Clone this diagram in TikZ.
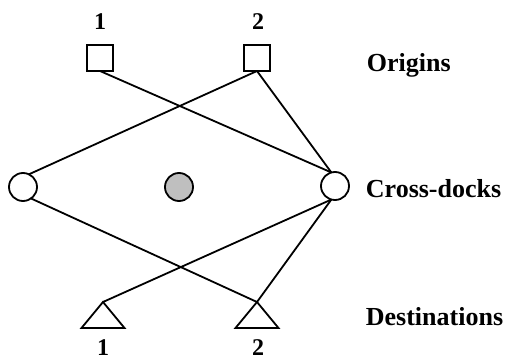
\documentclass[tikz,border=0pt]{standalone}
\usepackage{fontspec}
\setmainfont{Liberation Serif}
\usetikzlibrary{shapes.geometric}

\begin{document}
\begin{tikzpicture}[x=1pt,y=-1pt,line width=1.8pt,
    origin/.style={rectangle,draw,minimum size=26pt,inner sep=0pt,outer sep=0pt},
    dock/.style={circle,draw,minimum size=28pt,inner sep=0pt,outer sep=0pt},
    dest/.style={isosceles triangle,shape border rotate=90,isosceles triangle stretches,
        draw,minimum width=43pt,minimum height=26pt,inner sep=0pt,outer sep=0pt},
    num/.style={font=\fontsize{24}{26}\selectfont\bfseries},
    tier/.style={anchor=base west,inner sep=0pt,font=\fontsize{26}{30}\selectfont\bfseries}]
        \useasboundingbox (0,0) rectangle (509,361);

        % origins
        \draw (100,58) node[origin] (O1) {};
        \draw (257,58) node[origin] (O2) {};
        \draw (100,22) node[num] (n1) {1};
        \draw (258,22) node[num] (n2) {2};

        % cross-docks, the middle one unused
        \draw (23,187) node[dock] (C1) {};
        \draw (179,187) node[dock,fill=gray!50] (C0) {};
        \draw (335,186) node[dock] (C2) {};

        % destinations
        \draw (103,302) node[dest,anchor=apex] (D1) {};
        \draw (257,302) node[dest,anchor=apex] (D2) {};
        \draw (103,348) node[num] (m1) {1};
        \draw (258,348) node[num] (m2) {2};

        \draw (O1.south)--(C2.105);
        \draw (O2.south)--(C1.65);
        \draw (O2.south)--(C2.105);
        \draw (C1.-55)--(D2.apex);
        \draw (C2.-105)--(D1.apex);
        \draw (C2.-105)--(D2.apex);

        \draw (366,72) node[tier] (t1) {Origins};
        \draw (365,197) node[tier] (t2) {Cross-docks};
        \draw (365,325) node[tier] (t3) {Destinations};
\end{tikzpicture}
\end{document}
